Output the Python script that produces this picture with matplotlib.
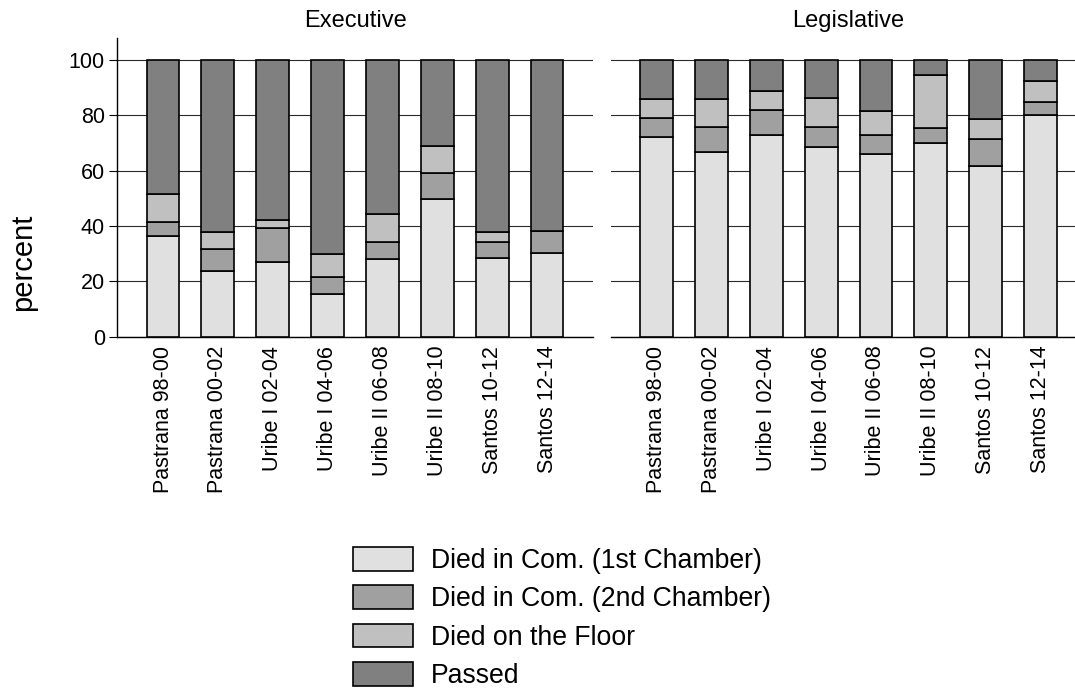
import matplotlib
matplotlib.use("Agg")
import matplotlib.pyplot as plt
import numpy as np

plt.rcParams['font.family'] = ['Liberation Sans', 'DejaVu Sans']

# Legislaturas y resultado de los proyectos (porcentajes)
periods = ["Pastrana 98-00", "Pastrana 00-02", "Uribe I 02-04", "Uribe I 04-06",
           "Uribe II 06-08", "Uribe II 08-10", "Santos 10-12", "Santos 12-14"]
outcomes = ["Died in Com. (1st Chamber)", "Died in Com. (2nd Chamber)",
            "Died on the Floor", "Passed"]

exec_com1 = [36.5, 23.6, 27.0, 15.6, 28.2, 49.8, 28.3, 30.3]
exec_com2 = [5.0, 8.2, 12.1, 6.1, 6.1, 9.4, 5.9, 7.8]
exec_floor = [10.1, 6.1, 3.0, 8.1, 9.9, 9.8, 3.7, 0.0]
exec_passed = [48.4, 62.1, 57.9, 70.2, 55.8, 31.0, 62.1, 61.9]

leg_com1 = [72.2, 66.7, 73.0, 68.5, 65.9, 69.9, 61.7, 80.0]
leg_com2 = [6.9, 9.0, 8.8, 7.2, 7.0, 5.4, 9.8, 4.8]
leg_floor = [6.6, 10.1, 6.9, 10.7, 8.6, 19.2, 7.1, 7.6]
leg_passed = [14.3, 14.2, 11.3, 13.6, 18.5, 5.5, 21.4, 7.6]

colors = ["#e0e0e0", "#a0a0a0", "#c0c0c0", "#808080"]

fig = plt.figure(figsize=(10.75, 6.9), dpi=100)
ax1 = fig.add_axes([0.1093, 0.512, 0.4419, 0.4333])
ax2 = fig.add_axes([0.5684, 0.512, 0.4419, 0.4333])

panels = [(ax1, "Executive", [exec_com1, exec_com2, exec_floor, exec_passed]),
          (ax2, "Legislative", [leg_com1, leg_com2, leg_floor, leg_passed])]

x = np.arange(len(periods))
for ax, title, series in panels:
    bottom = np.zeros(len(periods))
    for vals, col, lab in zip(series, colors, outcomes):
        ax.bar(x, vals, width=0.6, bottom=bottom, color=col, edgecolor="black",
               linewidth=1.2, label=lab, zorder=3)
        bottom += np.array(vals)
    ax.set_xlim(-0.83, 7.83)
    ax.set_ylim(0, 108)
    ax.set_yticks([0, 20, 40, 60, 80, 100])
    ax.yaxis.grid(True, color="#2a2a2a", linewidth=0.8)
    ax.set_axisbelow(True)
    ax.set_xticks(x)
    ax.set_xticklabels(periods, rotation=90, fontsize=15.5)
    ax.tick_params(axis="x", length=0, pad=6.5)
    ax.set_title(title, fontsize=17, pad=7.6)
    for s in ["top", "right"]:
        ax.spines[s].set_visible(False)
    ax.spines["bottom"].set_linewidth(1.0)
    ax.spines["left"].set_linewidth(1.0)

ax1.tick_params(axis="y", length=6, width=0.8, labelsize=15.5, pad=3)
ax2.spines["left"].set_visible(False)
ax2.tick_params(axis="y", length=0, labelleft=False)

fig.text(23 / 1075, 1 - 262 / 690, "percent", rotation=90, fontsize=21,
         ha="center", va="center")

handles, labels = ax1.get_legend_handles_labels()
fig.legend(handles, labels, loc="upper left", bbox_to_anchor=(353 / 1075, 1 - 547 / 690),
           frameon=False, fontsize=19.2, borderpad=0, borderaxespad=0,
           handlelength=2.26, handleheight=1.0, handletextpad=0.66, labelspacing=0.42)

fig.savefig("out.png", dpi=100)
